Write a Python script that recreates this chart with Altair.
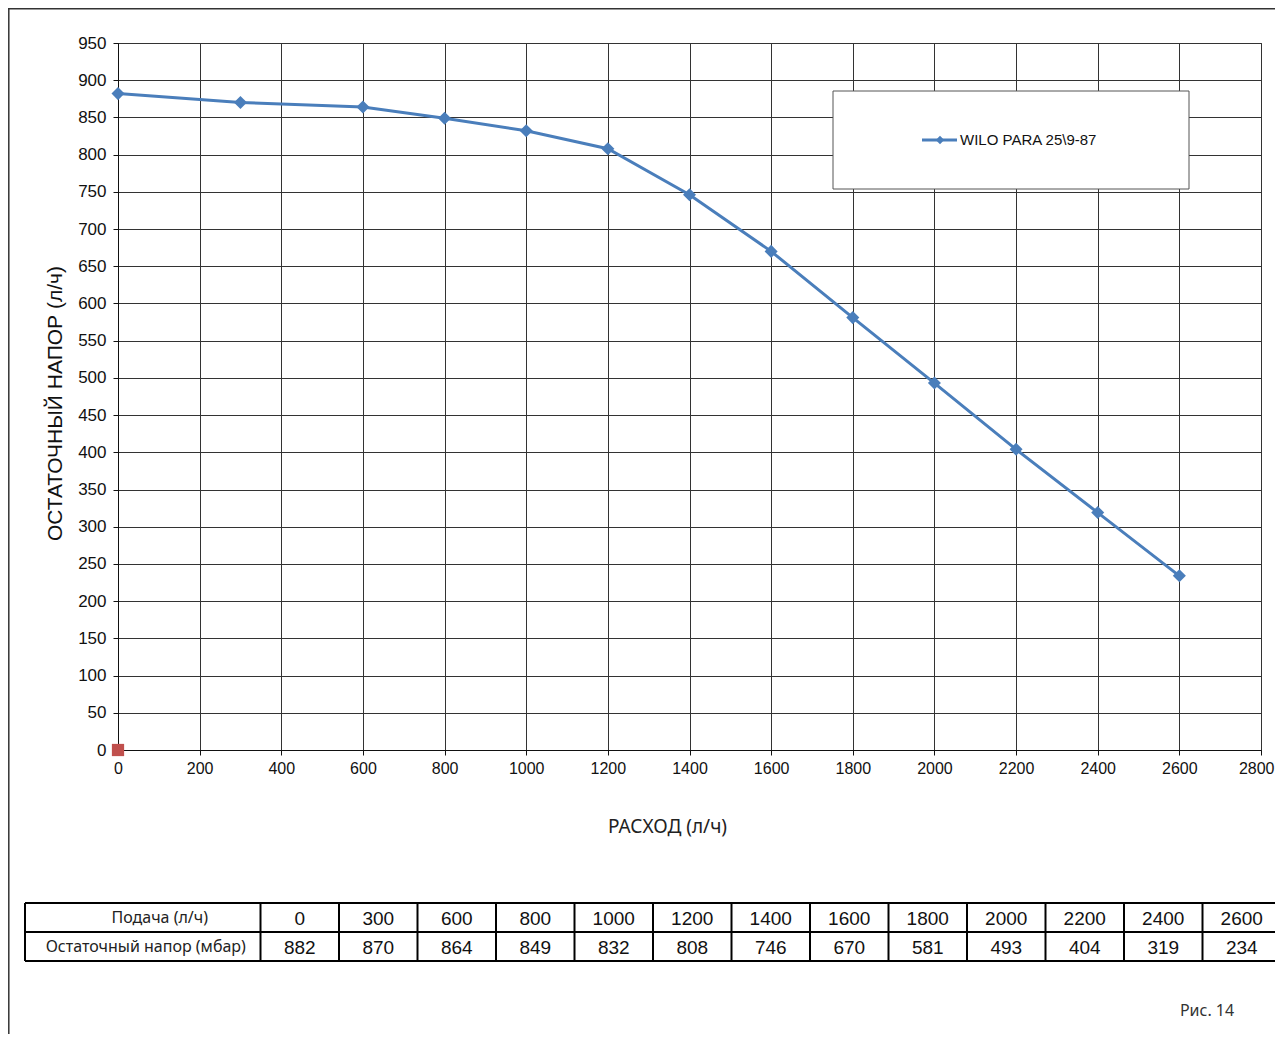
import altair as alt
import pandas as pd

# ---- data ----
series_name = "WILO PARA 25\\9-87"
flow = [0, 300, 600, 800, 1000, 1200, 1400, 1600, 1800, 2000, 2200, 2400, 2600]
head = [882, 870, 864, 849, 832, 808, 746, 670, 581, 493, 404, 319, 234]
x_ticks = list(range(0, 2801, 200))
y_ticks = list(range(0, 951, 50))
row_labels = ["Подача (л/ч)", "Остаточный напор (мбар)"]
x_title = "РАСХОД (л/ч)"
y_title = "ОСТАТОЧНЫЙ НАПОР (л/ч)"
fig_label = "Рис. 14"

W, H = 1143, 707
BLUE = "#4a7ebb"

df = pd.DataFrame({"flow": flow, "head": head, "series": series_name})
origin = pd.DataFrame({"flow": [0], "head": [0]})

xs = alt.Scale(domain=[0, 2800], nice=False, zero=False)
ys = alt.Scale(domain=[0, 950], nice=False)

last_tick = "datum.value == 2800"
x_axis = alt.Axis(values=x_ticks, format="d", title=x_title, titleX=549, titleY=76,
                  titleAlign="center", titleBaseline="middle",
                  titleFont="Noto Sans", titleFontSize=19, titleFontWeight="normal",
                  titleColor="#222", labelPadding=5, grid=True, labelFlush=False,
                  labelOverlap=False, labelBound=False,
                  labelAlign={"condition": {"test": last_tick, "value": "right"}, "value": "center"},
                  labelOffset={"condition": {"test": last_tick, "value": 13}, "value": 0})
y_axis = alt.Axis(values=y_ticks, format="d", title=y_title, titleX=-63, titleY=403 - 43,
                  titleAlign="center", titleBaseline="middle", titleAngle=270,
                  titleFont="Liberation Sans", titleFontSize=21, titleFontWeight="normal",
                  titleColor="#111", labelPadding=7, grid=True, labelFlush=False,
                  labelOverlap=False, labelFontSize=17)

X = alt.X("flow:Q", scale=xs, axis=x_axis)
Y = alt.Y("head:Q", scale=ys, axis=y_axis)

line = alt.Chart(df).mark_line(color=BLUE, strokeWidth=3).encode(x=X, y=Y)
pts = alt.Chart(df).mark_point(shape="diamond", filled=True, color=BLUE, size=170, opacity=1).encode(x=X, y=Y)
red = alt.Chart(origin).mark_point(shape="square", filled=True, color="#c0504d", size=150, opacity=1).encode(x=X, y=Y)
main = alt.layer(line, pts, red)

# ---- table ----
ncol = len(flow)
segs = []
for c in [-3] + list(range(0, ncol + 1)):
    segs.append({"x1": c, "x2": c, "y1": 0, "y2": 2})
for r in [0, 1, 2]:
    segs.append({"x1": -3, "x2": ncol, "y1": r, "y2": r})
seg_df = pd.DataFrame(segs)

cells = []
for i, (f, h) in enumerate(zip(flow, head)):
    cells.append({"c": i + 0.5, "r": 0.5, "t": str(f)})
    cells.append({"c": i + 0.5, "r": 1.5, "t": str(h)})
cell_df = pd.DataFrame(cells)

tx = alt.Scale(domain=[-3, ncol], range=[-93, 1163], nice=False, zero=False)
ty = alt.Scale(domain=[0, 2], range=[860, 918], nice=False, zero=False)

grid_t = alt.Chart(seg_df).mark_rule(color="#000", strokeWidth=2).encode(
    x=alt.X("x1:Q", scale=tx, axis=None), x2="x2:Q",
    y=alt.Y("y1:Q", scale=ty, axis=None), y2="y2:Q",
)
txt_t = alt.Chart(cell_df).mark_text(font="Liberation Sans Narrow, Liberation Sans", fontSize=19,
                                     color="#111", baseline="middle", align="center", dy=1).encode(
    x=alt.X("c:Q", scale=tx, axis=None), y=alt.Y("r:Q", scale=ty, axis=None), text="t:N"
)
lab1 = alt.Chart(pd.DataFrame({"c": [-1.5], "r": [0.5], "t": [row_labels[0]]})).mark_text(
    font="Noto Sans", fontSize=16, color="#222", baseline="middle", align="center", dx=17
).encode(x=alt.X("c:Q", scale=tx, axis=None), y=alt.Y("r:Q", scale=ty, axis=None), text="t:N")
lab2 = alt.Chart(pd.DataFrame({"c": [-1.5], "r": [1.5], "t": [row_labels[1]]})).mark_text(
    font="Noto Sans", fontSize=16, color="#222", baseline="middle", align="center", dx=3
).encode(x=alt.X("c:Q", scale=tx, axis=None), y=alt.Y("r:Q", scale=ty, axis=None), text="t:N")
table = alt.layer(grid_t, txt_t, lab1, lab2)

# ---- decorations ----
one = pd.DataFrame({"a": [0]})
leg_box = alt.Chart(one).mark_rect(fill="white", stroke="#555", strokeWidth=1).encode(
    x=alt.value(715), x2=alt.value(1071), y=alt.value(48), y2=alt.value(146))
leg_line = alt.Chart(one).mark_rule(color=BLUE, strokeWidth=3).encode(
    x=alt.value(804), x2=alt.value(839), y=alt.value(97))
leg_pt = alt.Chart(one).mark_point(shape="diamond", filled=True, color=BLUE, size=70, opacity=1).encode(
    x=alt.value(822), y=alt.value(97))
leg_txt = alt.Chart(pd.DataFrame({"t": [series_name]})).mark_text(
    font="Liberation Sans", fontSize=15, color="#111", align="left", baseline="middle").encode(
    x=alt.value(842), y=alt.value(97), text="t:N")
fig_txt = alt.Chart(pd.DataFrame({"t": [fig_label]})).mark_text(
    font="Noto Sans", fontSize=16, color="#333", align="center", baseline="middle").encode(
    x=alt.value(1089), y=alt.value(968), text="t:N")
frame_l = alt.Chart(one).mark_rule(color="#333", strokeWidth=1.5).encode(
    x=alt.value(-109.2), y=alt.value(-35), y2=alt.value(1100))
frame_t = alt.Chart(one).mark_rule(color="#333", strokeWidth=1.5).encode(
    x=alt.value(-110), x2=alt.value(1170), y=alt.value(-34.2))

chart = alt.layer(main, table, leg_box, leg_line, leg_pt, leg_txt, fig_txt, frame_l, frame_t).resolve_scale(
    x="independent", y="independent"
).properties(
    width=W, height=H,
    autosize=alt.AutoSizeParams(type="none"),
    padding={"left": 110, "top": 35, "right": 14, "bottom": 284},
    background="white",
).configure_axis(
    labelFont="Liberation Sans", labelFontSize=16, labelColor="#111",
    domainColor="#111", tickColor="#111", tickSize=5,
    gridColor="#333", gridWidth=1, gridOpacity=1,
).configure_view(stroke="#333")

chart.save("out.html", embed_options={"renderer": "svg", "actions": False})
